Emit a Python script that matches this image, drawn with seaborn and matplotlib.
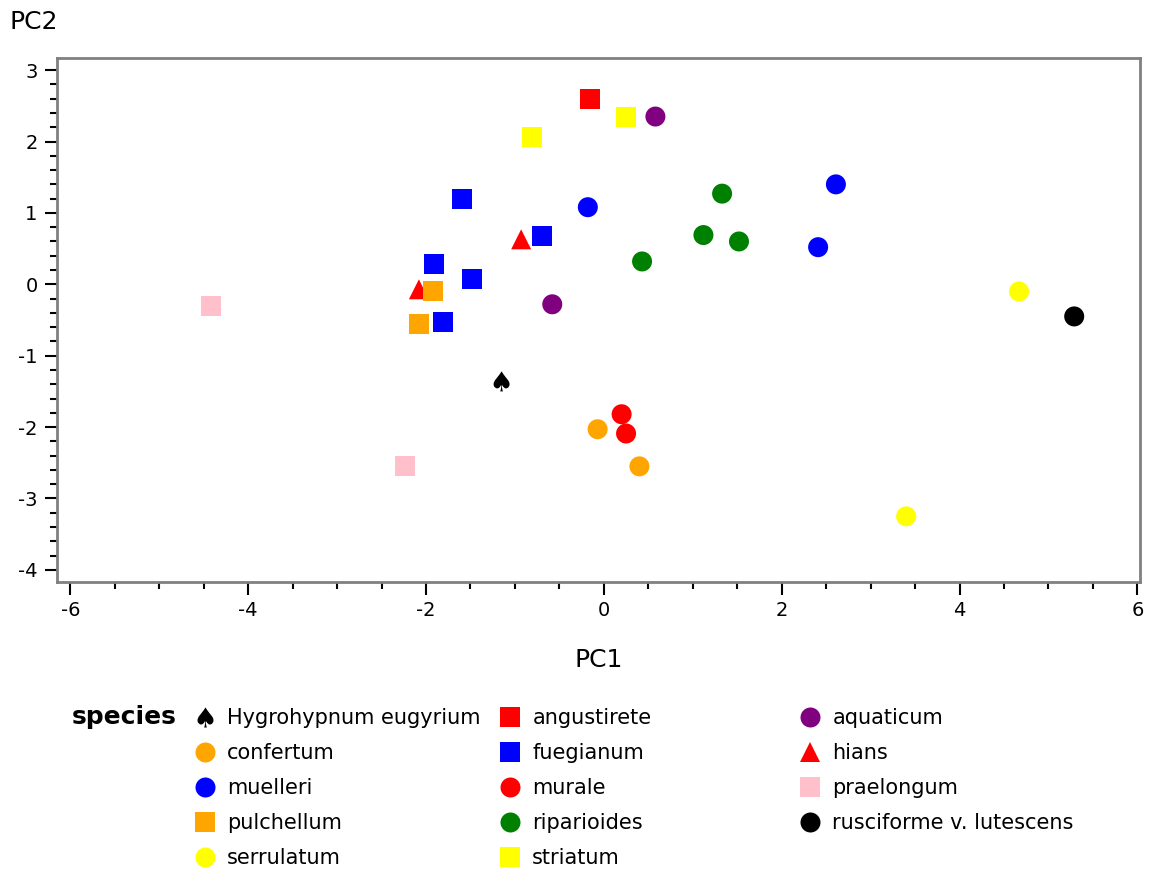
import numpy as np
import pandas as pd
import seaborn as sns
import matplotlib
matplotlib.use("Agg")
import matplotlib.pyplot as plt
from matplotlib.lines import Line2D
from matplotlib.ticker import MultipleLocator

sns.set_style("white")
plt.rcParams['font.family'] = ['DejaVu Sans']
plt.rcParams['axes.unicode_minus'] = False
plt.rcParams['text.color'] = 'black'
plt.rcParams['xtick.color'] = 'black'
plt.rcParams['ytick.color'] = 'black'
plt.rcParams['xtick.labelcolor'] = 'black'
plt.rcParams['ytick.labelcolor'] = 'black'

# ---- data ----
species = (["Hygrohypnum eugyrium"] + ["angustirete"] + ["aquaticum"] * 2 + ["confertum"] * 2
           + ["fuegianum"] * 5 + ["hians"] * 2 + ["muelleri"] * 3 + ["murale"] * 2
           + ["praelongum"] * 2 + ["pulchellum"] * 2 + ["riparioides"] * 4
           + ["rusciforme v. lutescens"] + ["serrulatum"] * 2 + ["striatum"] * 2)
pc1 = [-1.15,
       -0.16,
       0.58, -0.58,
       -0.07, 0.40,
       -1.59, -0.69, -1.91, -1.48, -1.81,
       -0.93, -2.08,
       -0.18, 2.61, 2.41,
       0.20, 0.25,
       -4.42, -2.24,
       -1.92, -2.08,
       1.33, 1.12, 1.52, 0.43,
       5.29,
       4.67, 3.40,
       0.25, -0.81]
pc2 = [-1.36,
       2.60,
       2.35, -0.28,
       -2.03, -2.55,
       1.19, 0.67, 0.28, 0.08, -0.53,
       0.63, -0.07,
       1.08, 1.40, 0.52,
       -1.82, -2.09,
       -0.31, -2.54,
       -0.10, -0.55,
       1.27, 0.69, 0.60, 0.32,
       -0.45,
       -0.10, -3.25,
       2.35, 2.06]

levels = ["Hygrohypnum eugyrium", "angustirete", "aquaticum", "confertum", "fuegianum",
          "hians", "muelleri", "murale", "praelongum", "pulchellum", "riparioides",
          "rusciforme v. lutescens", "serrulatum", "striatum"]
colors = ["#000000", "#FF0000", "#800080", "#FFA500", "#0000FF",
          "#FF0000", "#0000FF", "#FF0000", "#FFC0CB", "#FFA500", "#008000",
          "#000000", "#FFFF00", "#FFFF00"]
marker_list = ["$\u2660$", "s", "o", "o", "s", "^", "o", "o", "s", "s", "o", "o", "o", "s"]

df = pd.DataFrame({"PC1": pc1, "PC2": pc2, "species": species})
palette = dict(zip(levels, colors))
markers = dict(zip(levels, marker_list))
sizes_px = {"s": 20, "o": 20, "^": 20, "$\u2660$": 20}

W, H = 1154, 869
fig = plt.figure(figsize=(W / 100, H / 100), dpi=100)
ax = fig.add_axes([57 / W, 1 - 582 / H, (1140 - 57) / W, (582 - 58) / H])

for lv in levels:
    sub = df[df.species == lv]
    m = markers[lv]
    ms = sizes_px[m] * 0.72
    sns.scatterplot(data=sub, x="PC1", y="PC2", ax=ax, color=palette[lv], marker=m,
                    s=ms ** 2, linewidth=0, edgecolor="none", legend=False, zorder=3)

ax.set_xlim(-6.15, 6.03)
ax.set_ylim(-4.17, 3.17)
ax.set_xticks(range(-6, 7, 2))
ax.set_yticks(range(-4, 4, 1))
ax.xaxis.set_minor_locator(MultipleLocator(0.5))
ax.yaxis.set_minor_locator(MultipleLocator(0.2))
ax.tick_params(which="major", direction="out", length=9, width=1.5, color="black",
               labelcolor="black", labelsize=14, pad=5, bottom=True, left=True)
ax.tick_params(which="minor", direction="out", length=5, width=1.5, color="black",
               bottom=True, left=True)
for sp in ax.spines.values():
    sp.set_color("#808080")
    sp.set_linewidth(2)
ax.set_xlabel("")
ax.set_ylabel("")

fig.text(10 / W, 1 - 22 / H, "PC2", fontsize=18, va="center", ha="left", color="black")
fig.text((57 + 1140) / 2 / W, 1 - 660 / H, "PC1", fontsize=18, va="center", ha="center",
         color="black")

# ---- legend (three fixed-width columns) ----
fig.text(72 / W, 1 - 717 / H, "species", fontsize=18, fontweight="bold", va="center",
         ha="left", color="black")
cols = [levels[0::3], levels[1::3], levels[2::3]]
col_x = [195, 500, 800]
for names, x0 in zip(cols, col_x):
    handles = []
    for n in names:
        m = markers[n]
        handles.append(Line2D([], [], linestyle="none", marker=m, color=palette[n],
                              markersize=sizes_px[m] * 0.72, markeredgewidth=0))
    leg = fig.legend(handles=handles, labels=names, loc="upper left",
                     bbox_to_anchor=(x0 / W, 1 - 708 / H), frameon=False, fontsize=15,
                     handlelength=0.95, handletextpad=0.6, borderpad=0, borderaxespad=0,
                     labelspacing=0.72, labelcolor="black")

fig.savefig("out.png", dpi=100, facecolor="white")
